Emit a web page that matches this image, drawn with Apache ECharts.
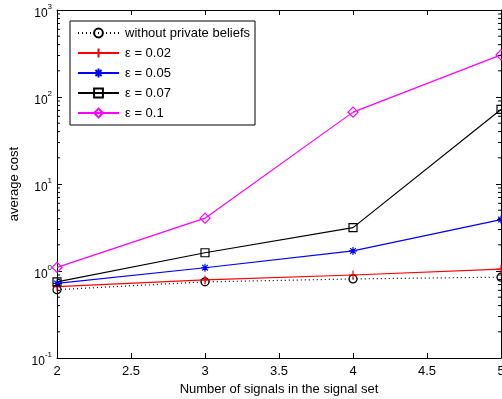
<!DOCTYPE html>
<html>
<head>
<meta charset="utf-8">
<script src="https://cdn.jsdelivr.net/npm/echarts@6/dist/echarts.min.js"></script>
<style>
  html, body { margin: 0; padding: 0; background: #fff; }
  #chart { width: 502px; height: 399px; }
</style>
</head>
<body>
<div id="chart"></div>
<script>
// Number of signals in the signal set
const signals = [2, 3, 4, 5];

// Average cost per configuration
const withoutPrivate = [0.61, 0.75, 0.81, 0.85];
const eps002 = [0.66, 0.79, 0.90, 1.05];
const eps005 = [0.72, 1.09, 1.70, 3.9];
const eps007 = [0.75, 1.62, 3.15, 72];
const eps01 = [1.10, 4.05, 67, 305];

const seriesNames = ['without private beliefs', 'ε = 0.02', 'ε = 0.05', 'ε = 0.07', 'ε = 0.1'];

// Log-axis minor tick positions (2..9 in each decade between 0.1 and 1000)
const minorTicks = [];
[0.1, 1, 10, 100].forEach(function (d) {
  for (let m = 2; m <= 9; m++) minorTicks.push(+(d * m).toPrecision(3));
});

const FONT = 'Liberation Sans, Arial, sans-serif';
const plusPath = 'path://M5,0L5,10M0,5L10,5';
const starPath = 'path://M5,0L5,10M0,5L10,5M1.5,1.5L8.5,8.5M8.5,1.5L1.5,8.5';

function pairs(vals) {
  return signals.map(function (x, i) { return [x, vals[i]]; });
}

function lineSeries(name, vals, color, symbol, size, dotted) {
  return {
    name: name,
    type: 'line',
    data: pairs(vals),
    symbol: symbol,
    symbolSize: size,
    showAllSymbol: true,
    clip: false,
    lineStyle: { color: color, width: 1.2, type: dotted ? [1, 3] : 'solid' },
    itemStyle: { color: 'none', borderColor: color, borderWidth: 1.2 },
    emphasis: { disabled: true },
    animation: false
  };
}

const supLabel = function (v) {
  const e = Math.round(Math.log10(v));
  return '{b|10}{s|' + (e < 0 ? '-' + (-e) : e) + '}';
};

const yCommon = {
  type: 'log',
  logBase: 10,
  min: 0.1,
  max: 1000,
  splitLine: { show: false },
  axisLine: { show: true, lineStyle: { color: '#000', width: 1 } },
  axisTick: { show: true, inside: true, length: 5, lineStyle: { color: '#000' } },
  minorTick: { show: false }
};

const xCommon = {
  type: 'value',
  min: 2,
  max: 5,
  interval: 0.5,
  splitLine: { show: false },
  axisLine: { show: true, onZero: false, lineStyle: { color: '#000', width: 1 } },
  axisTick: { show: true, inside: true, length: 5, lineStyle: { color: '#000' } }
};

const chart = echarts.init(document.getElementById('chart'), null, { renderer: 'canvas' });

chart.setOption({
  animation: false,
  backgroundColor: '#fff',
  textStyle: { fontFamily: FONT },
  grid: { left: 57, right: 1, top: 10, bottom: 41, containLabel: false, outerBoundsMode: 'none' },
  xAxis: [
    Object.assign({}, xCommon, {
      position: 'bottom',
      name: 'Number of signals in the signal set',
      nameLocation: 'middle',
      nameGap: 24,
      nameTextStyle: { fontSize: 13, color: '#000', fontFamily: FONT },
      axisLabel: { color: '#000', fontSize: 13, margin: 7, fontFamily: FONT,
        showMinLabel: true, showMaxLabel: true, hideOverlap: false,
        formatter: function (v) { return String(v); } }
    }),
    Object.assign({}, xCommon, { position: 'top', axisLabel: { show: false } })
  ],
  yAxis: [
    Object.assign({}, yCommon, {
      position: 'left',
      name: 'average cost',
      nameLocation: 'middle',
      nameGap: 33,
      nameTextStyle: { fontSize: 13, color: '#000', fontFamily: FONT },
      axisLabel: {
        color: '#000', margin: 5, fontFamily: FONT,
        formatter: supLabel,
        padding: [3, 0, 0, 0],
        rich: {
          b: { fontSize: 12, color: '#000', fontFamily: FONT, lineHeight: 17, verticalAlign: 'bottom' },
          s: { fontSize: 8, color: '#000', fontFamily: FONT, lineHeight: 9, verticalAlign: 'top' }
        }
      }
    }),
    Object.assign({}, yCommon, { position: 'right', axisLabel: { show: false } })
  ],
  legend: {
    data: seriesNames,
    orient: 'vertical',
    left: 70,
    top: 21,
    itemWidth: 41,
    itemHeight: 11,
    itemGap: 0,
    padding: [2, 5, 2, 7],
    backgroundColor: '#fff',
    borderColor: '#000',
    borderWidth: 1,
    borderRadius: 0,
    selectedMode: false,
    textStyle: { fontSize: 13, lineHeight: 20, color: '#000', fontFamily: FONT, padding: [0, 0, 0, 1] }
  },
  series: [
    lineSeries(seriesNames[0], withoutPrivate, '#000', 'circle', 8, true),
    lineSeries(seriesNames[1], eps002, '#ff0000', plusPath, 9, false),
    lineSeries(seriesNames[2], eps005, '#0000ff', starPath, 8, false),
    lineSeries(seriesNames[3], eps007, '#000', 'rect', 8, false),
    lineSeries(seriesNames[4], eps01, '#ff00ff', 'diamond', 10, false),
    {
      // minor ticks on the left and right log axes
      type: 'custom',
      silent: true,
      clip: false,
      z: 5,
      data: minorTicks.map(function (v) { return [2, v]; }),
      renderItem: function (params, api) {
        const p = api.coord([api.value(0), api.value(1)]);
        const cs = params.coordSys;
        const l = cs.x, r = cs.x + cs.width;
        return {
          type: 'group',
          children: [
            { type: 'line', shape: { x1: l, y1: p[1], x2: l + 3, y2: p[1] }, style: { stroke: '#000', lineWidth: 1 } },
            { type: 'line', shape: { x1: r - 3, y1: p[1], x2: r, y2: p[1] }, style: { stroke: '#000', lineWidth: 1 } }
          ]
        };
      }
    }
  ]
});
</script>
</body>
</html>
